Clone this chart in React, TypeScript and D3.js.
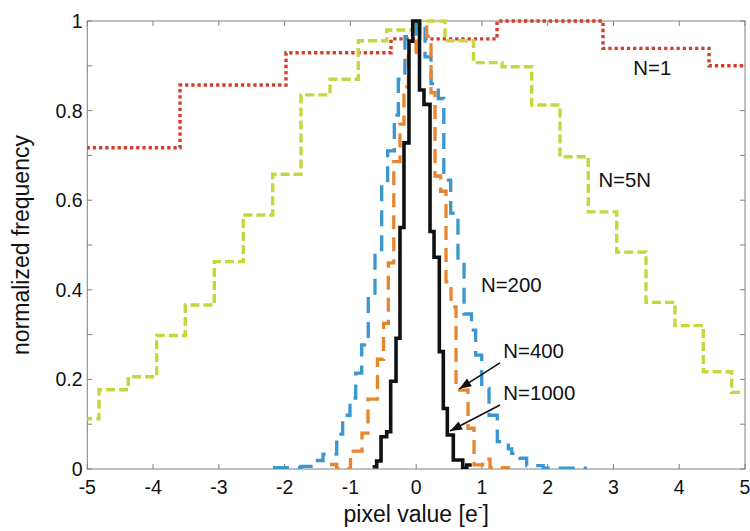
import React from 'react';
import * as d3 from 'd3';

// ---------- data ----------
const xTickValues = [-5, -4, -3, -2, -1, 0, 1, 2, 3, 4, 5];
const yLabelTicks = [0, 0.2, 0.4, 0.6, 0.8, 1];
const yMinorTicks = [0, 0.1, 0.2, 0.3, 0.4, 0.5, 0.6, 0.7, 0.8, 0.9, 1];

// N=1 (red dotted)
const n1Edges = [-5.199, -3.59, -1.979, -0.382, 1.23, 2.841, 4.453, 6.06];
const n1Values = [0.717, 0.857, 0.929, 0.96, 1.0, 0.939, 0.9];

// N=5N (yellow-green dashed)
const n5Edges = [-5.26, -4.822, -4.377, -3.945, -3.51, -3.069, -2.628, -2.181, -1.751, -1.31, -0.88, -0.448, -0.002,
  0.439, 0.872, 1.305, 1.757, 2.187, 2.617, 3.049, 3.495, 3.935, 4.366, 4.798, 5.23];
const n5Values = [0.112, 0.177, 0.206, 0.298, 0.366, 0.463, 0.567, 0.658, 0.835, 0.87, 0.956, 0.98, 1.0,
  0.956, 0.907, 0.898, 0.8125, 0.697, 0.574, 0.484, 0.372, 0.32, 0.217, 0.171];

// N=200 (blue dashed)
const n200Edges = [-2.177, -1.751, -1.538, -1.416, -1.208, -1.117, -1.006, -0.919, -0.828, -0.728, -0.626, -0.524,
  -0.433, -0.332, -0.271, -0.17, -0.002, 0.135, 0.226, 0.337, 0.42, 0.525, 0.636, 0.728, 0.842, 0.905, 0.997,
  1.108, 1.234, 1.401, 1.453, 1.579, 1.681, 1.933, 2.598];
const n200Values = [0.003, 0.006, 0.019, 0.033, 0.078, 0.12, 0.158, 0.214, 0.277, 0.385, 0.49, 0.634, 0.71, 0.79,
  0.87, 0.965, 0.995, 0.92, 0.86, 0.827, 0.645, 0.571, 0.466, 0.346, 0.31, 0.254, 0.18, 0.12, 0.061, 0.045,
  0.035, 0.024, 0.0075, 0.002];

// N=400 (orange dashed)
const n400Edges = [-1.31, -1.208, -0.998, -0.823, -0.732, -0.588, -0.496, -0.423, -0.34, -0.246, -0.185, -0.119,
  -0.002, 0.059, 0.16, 0.226, 0.287, 0.373, 0.454, 0.53, 0.606, 0.789, 0.88, 1.012, 1.123, 1.427];
const n400Values = [0.01, 0, 0.04, 0.08, 0.156, 0.245, 0.325, 0.46, 0.686, 0.77, 0.853, 0.93, 0.96, 0.996, 0.966,
  0.84, 0.654, 0.62, 0.418, 0.362, 0.176, 0.091, 0.009, 0.022, 0.003];

// N=1000 (black solid)
const n1000Edges = [-0.661, -0.6, -0.534, -0.448, -0.387, -0.306, -0.246, -0.185, -0.109, -0.052, 0.051, 0.119,
  0.211, 0.272, 0.352, 0.413, 0.474, 0.565, 0.708, 0.769, 0.845];
const n1000Values = [0.005, 0.018, 0.072, 0.083, 0.196, 0.292, 0.539, 0.728, 0.955, 1.0, 0.846, 0.814, 0.53,
  0.4725, 0.262, 0.135, 0.076, 0.02, 0.002, 0.009];

// annotations (data coordinates)
const labelTexts = ['N=1', 'N=5N', 'N=200', 'N=400', 'N=1000'];
const labelX = [3.302, 2.771, 0.986, 1.325, 1.325];
const labelY = [0.879, 0.63, 0.396, 0.248, 0.154];
const arrowFrom = [[1.275, 0.237], [1.275, 0.143]];
const arrowTo = [[0.656, 0.179], [0.515, 0.085]];

const W = 750, H = 531;
const left = 87.3, right = 745, top = 21, bottom = 469;

export default function App() {
  const x = d3.scaleLinear().domain([-5, 5]).range([left, right]);
  const y = d3.scaleLinear().domain([0, 1]).range([bottom, top]);

  const line = d3.line<[number, number]>()
    .x(d => x(d[0]))
    .y(d => y(d[1]))
    .curve(d3.curveStepAfter);

  const stepPath = (edges: number[], values: number[]) => {
    const pts: [number, number][] = values.map((v, i) => [edges[i], v]);
    pts.push([edges[edges.length - 1], values[values.length - 1]]);
    return line(pts) || '';
  };

  const series = [
    { e: n1Edges, v: n1Values, color: '#d43f2b', dash: '3.3,2.9', w: 3.4 },
    { e: n5Edges, v: n5Values, color: '#c6d63c', dash: '9,4', w: 3.4 },
    { e: n200Edges, v: n200Values, color: '#3a97cf', dash: '16,9', w: 3.3 },
    { e: n400Edges, v: n400Values, color: '#e8852f', dash: '14,8', w: 3.3 },
    { e: n1000Edges, v: n1000Values, color: '#111111', dash: 'none', w: 3.6 },
  ];

  const axisColor = '#808080';
  const font = '"Liberation Sans", Arial, Helvetica, sans-serif';

  return (
    <svg width={W} height={H} style={{ position: 'absolute', left: 0, top: 0, background: '#fff' }}
      xmlns="http://www.w3.org/2000/svg">
      <defs>
        <clipPath id="plot">
          <rect x={left} y={top - 3} width={right - left} height={bottom - top + 3} />
        </clipPath>
        <marker id="arr" viewBox="0 0 12 10" refX="12" refY="5" markerWidth="13" markerHeight="10"
          markerUnits="userSpaceOnUse" orient="auto">
          <path d="M0,0.5 L12,5 L0,9.5 Z" fill="#111" />
        </marker>
      </defs>
      <rect x={0} y={0} width={W} height={H} fill="#fff" />

      {/* frame */}
      <rect x={left} y={top} width={right - left} height={bottom - top} fill="none" stroke={axisColor} strokeWidth={1} />

      {/* ticks */}
      {xTickValues.map(t => (
        <g key={'xt' + t}>
          <line x1={x(t)} x2={x(t)} y1={bottom} y2={bottom - 5} stroke={axisColor} />
          <line x1={x(t)} x2={x(t)} y1={top} y2={top + 5} stroke={axisColor} />
        </g>
      ))}
      {yMinorTicks.map(t => (
        <g key={'yt' + t}>
          <line x1={left} x2={left + 5} y1={y(t)} y2={y(t)} stroke={axisColor} />
          <line x1={right} x2={right - 5} y1={y(t)} y2={y(t)} stroke={axisColor} />
        </g>
      ))}

      {/* curves */}
      <g clipPath="url(#plot)">
        {series.map((s, i) => (
          <path key={i} d={stepPath(s.e, s.v)} fill="none" stroke={s.color} strokeWidth={s.w}
            strokeDasharray={s.dash} strokeLinejoin="miter" strokeLinecap="butt" />
        ))}
      </g>

      {/* tick labels */}
      {xTickValues.map(t => (
        <text key={'xl' + t} x={x(t)} y={493.5} textAnchor="middle" fontFamily={font} fontSize={19.5} fill="#111">
          {t}
        </text>
      ))}
      {yLabelTicks.map(t => (
        <text key={'yl' + t} x={82.5} y={y(t)} dy="0.36em" textAnchor="end" fontFamily={font} fontSize={19.5} fill="#111">
          {t}
        </text>
      ))}

      {/* axis labels */}
      <text x={(left + right) / 2} y={522} textAnchor="middle" fontFamily={font} fontSize={23} fill="#111">
        pixel value [e<tspan fontSize={14} dy={-10}>-</tspan><tspan dy={10}>]</tspan>
      </text>
      <text transform={`translate(29, ${(top + bottom) / 2}) rotate(-90)`} textAnchor="middle"
        fontFamily={font} fontSize={23} fill="#111">
        normalized frequency
      </text>

      {/* annotations */}
      {labelTexts.map((t, i) => (
        <text key={t} x={x(labelX[i])} y={y(labelY[i])} fontFamily={font} fontSize={20.4} fill="#111">{t}</text>
      ))}
      {arrowFrom.map((f, i) => (
        <line key={'a' + i} x1={x(f[0])} y1={y(f[1])} x2={x(arrowTo[i][0])} y2={y(arrowTo[i][1])}
          stroke="#111" strokeWidth={1.6} markerEnd="url(#arr)" />
      ))}
    </svg>
  );
}
